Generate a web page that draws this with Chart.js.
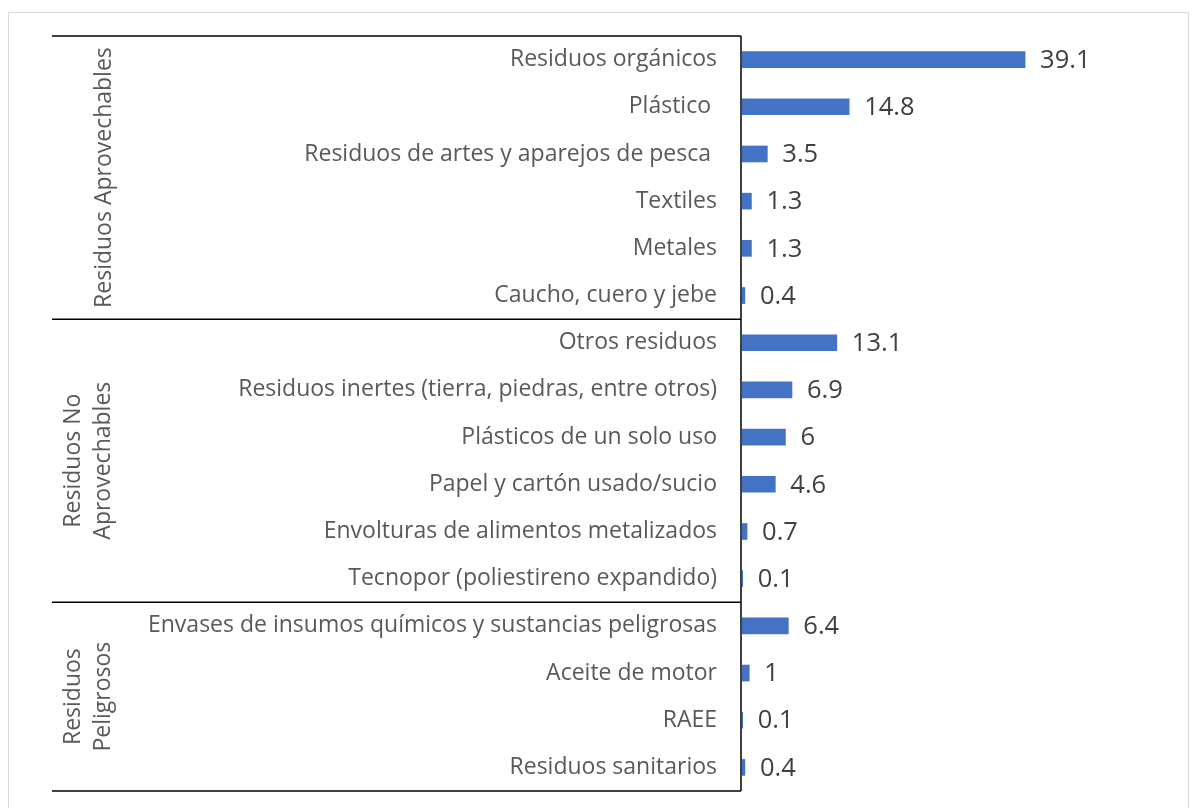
<!DOCTYPE html>
<html>
<head>
<meta charset="utf-8">
<script src="https://cdn.jsdelivr.net/npm/chart.js@4"></script>
<style>
  html, body { margin: 0; padding: 0; background: #fff; }
  #wrap { position: relative; width: 1199px; height: 808px; }
  #frame { position: absolute; left: 8px; top: 12px; width: 1181px; height: 800px; border: 1px solid #d9d9d9; box-sizing: border-box; }
  canvas { position: absolute; left: 0; top: 0; }
</style>
</head>
<body>
<div id="wrap">
  <div id="frame"></div>
  <canvas id="grafica" width="1199" height="808"></canvas>
</div>
<script>
const categories = [
  'Residuos orgánicos', 'Plástico ', 'Residuos de artes y aparejos de pesca ', 'Textiles', 'Metales', 'Caucho, cuero y jebe',
  'Otros residuos', 'Residuos inertes (tierra, piedras, entre otros)', 'Plásticos de un solo uso', 'Papel y cartón usado/sucio',
  'Envolturas de alimentos metalizados', 'Tecnopor (poliestireno expandido)',
  'Envases de insumos químicos y sustancias peligrosas', 'Aceite de motor', 'RAEE', 'Residuos sanitarios'
];
const values = [39.1, 14.8, 3.5, 1.3, 1.3, 0.4, 13.1, 6.9, 6, 4.6, 0.7, 0.1, 6.4, 1, 0.1, 0.4];
const groupNames = [['Residuos Aprovechables'], ['Residuos No', 'Aprovechables'], ['Residuos', 'Peligrosos']];
const groupSizes = [6, 6, 4];

const FONT = '"Open Sans", sans-serif';

// etiquetas de valor a la derecha de cada barra
const valueLabels = {
  id: 'valueLabels',
  afterDatasetsDraw(chart) {
    const ctx = chart.ctx;
    const meta = chart.getDatasetMeta(0);
    ctx.save();
    ctx.font = '25.5px ' + FONT;
    ctx.fillStyle = '#404040';
    ctx.textAlign = 'left';
    ctx.textBaseline = 'middle';
    meta.data.forEach((bar, i) => {
      ctx.fillText(String(values[i]), bar.x + 15, bar.y + 1);
    });
    ctx.restore();
  }
};

// grupos de categorias (estilo Excel multinivel)
const groupAxis = {
  id: 'groupAxis',
  afterDraw(chart) {
    const ctx = chart.ctx;
    const y = chart.scales.y;
    const area = chart.chartArea;
    const left = 52;
    ctx.save();
    ctx.strokeStyle = '#000';
    ctx.lineWidth = 1.5;
    // eje vertical
    ctx.beginPath();
    ctx.moveTo(area.left - 1, area.top);
    ctx.lineTo(area.left - 1, area.bottom);
    ctx.stroke();

    let start = 0;
    const bounds = [area.top];
    groupSizes.forEach(n => {
      start += n;
      bounds.push(start < categories.length
        ? (y.getPixelForValue(start - 1) + y.getPixelForValue(start)) / 2
        : area.bottom);
    });
    bounds.forEach(b => {
      ctx.beginPath();
      ctx.moveTo(left, b);
      ctx.lineTo(area.left - 1, b);
      ctx.stroke();
    });

    ctx.font = '23px ' + FONT;
    ctx.fillStyle = '#595959';
    ctx.textAlign = 'center';
    ctx.textBaseline = 'middle';
    const lineH = 30;
    groupNames.forEach((lines, g) => {
      const cy = (bounds[g] + bounds[g + 1]) / 2;
      const cx = lines.length === 1 ? 104 : 88;
      ctx.save();
      ctx.translate(cx, cy);
      ctx.rotate(-Math.PI / 2);
      lines.forEach((t, k) => {
        ctx.fillText(t, 0, (k - (lines.length - 1) / 2) * lineH);
      });
      ctx.restore();
    });
    ctx.restore();
  }
};

const chart = new Chart(document.getElementById('grafica'), {
  type: 'bar',
  data: {
    labels: categories,
    datasets: [{
      data: values,
      backgroundColor: '#4472C4',
      borderWidth: 0,
      barThickness: 16
    }]
  },
  options: {
    indexAxis: 'y',
    responsive: false,
    animation: false,
    layout: { padding: { top: 36, bottom: 17, right: 95, left: 0 } },
    scales: {
      x: {
        display: false,
        min: 0,
        max: 50
      },
      y: {
        grid: { display: false, drawTicks: false },
        border: { display: false },
        afterFit: (s) => {
          s.width = 742;
          s.paddingTop = 0;
          s.paddingBottom = 0;
        },
        ticks: {
          padding: 25,
          color: '#595959',
          font: { family: FONT, size: 23 },
          autoSkip: false
        }
      }
    },
    plugins: {
      legend: { display: false },
      tooltip: { enabled: false }
    }
  },
  plugins: [valueLabels, groupAxis]
});
</script>
</body>
</html>
